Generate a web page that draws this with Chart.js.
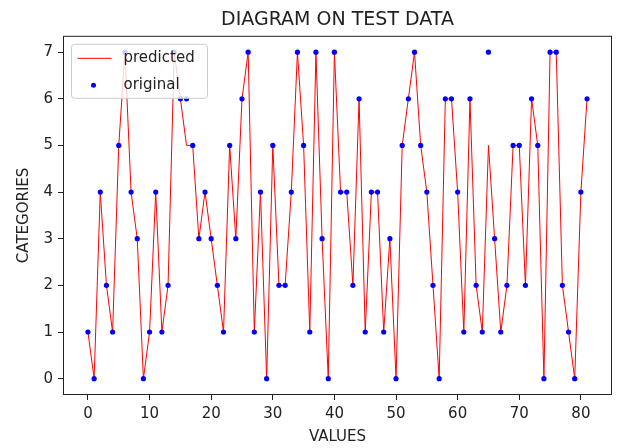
<!DOCTYPE html>
<html>
<head>
<meta charset="utf-8">
<script src="https://cdn.jsdelivr.net/npm/chart.js@4/dist/chart.umd.min.js"></script>
<style>
  html, body { margin: 0; padding: 0; background: #fff; }
  #wrap { width: 619px; height: 448px; }
</style>
</head>
<body>
<div id="wrap"><canvas id="diagramChart"></canvas></div>
<script>
// values
const original = [
  1, 0, 4, 2, 1, 5, 7, 4, 3, 0,
  1, 4, 1, 2, 7, 6, 6, 5, 3, 4,
  3, 2, 1, 5, 3, 6, 7, 1, 4, 0,
  5, 2, 2, 4, 7, 5, 1, 7, 3, 0,
  7, 4, 4, 2, 6, 1, 4, 4, 1, 3,
  0, 5, 6, 7, 5, 4, 2, 0, 6, 6,
  4, 1, 6, 2, 1, 7, 3, 1, 2, 5,
  5, 2, 6, 5, 0, 7, 7, 2, 1, 0,
  4, 6
];
const predicted = [
  1, 0, 4, 2, 1, 5, 7, 4, 3, 0,
  1, 4, 1, 2, 7, 6, 5, 5, 3, 4,
  3, 2, 1, 5, 3, 6, 7, 1, 4, 0,
  5, 2, 2, 4, 7, 5, 1, 7, 3, 0,
  7, 4, 4, 2, 6, 1, 4, 4, 1, 3,
  0, 5, 6, 7, 5, 4, 2, 0, 6, 6,
  4, 1, 6, 2, 1, 5, 3, 1, 2, 5,
  5, 2, 6, 5, 0, 7, 7, 2, 1, 0,
  4, 6
];
const xTicks = [0, 10, 20, 30, 40, 50, 60, 70, 80];
const yTicks = [0, 1, 2, 3, 4, 5, 6, 7];
const seriesNames = ["predicted", "original"];

const FONT = "'DejaVu Sans', sans-serif";
const TEXT = "#222";

function toPoints(values) {
  return values.map((v, i) => ({ x: i, y: v }));
}

// black frame on all four sides, like matplotlib spines
const framePlugin = {
  id: "frame",
  afterDraw(chart) {
    const { ctx, chartArea: a } = chart;
    ctx.save();
    ctx.strokeStyle = "#222";
    ctx.lineWidth = 1;
    ctx.strokeRect(a.left + 0.5, a.top + 0.5, a.right - a.left - 1, a.bottom - a.top - 1);
    ctx.restore();
  },
};

// legend in the upper left corner of the plot, drawn over the data
const insideLegend = {
  id: "insideLegend",
  afterDraw(chart) {
    const { ctx, chartArea: a } = chart;
    const left = a.left + 8.5;
    const top = a.top + 8.5;
    ctx.save();
    ctx.beginPath();
    ctx.roundRect(left, top, 136, 54, 3);
    ctx.fillStyle = "rgba(255,255,255,0.8)";
    ctx.fill();
    ctx.strokeStyle = "#cccccc";
    ctx.lineWidth = 1;
    ctx.stroke();

    ctx.strokeStyle = "#ff0000";
    ctx.beginPath();
    ctx.moveTo(left + 6, top + 14);
    ctx.lineTo(left + 40, top + 14);
    ctx.stroke();

    ctx.fillStyle = "#0000ff";
    ctx.beginPath();
    ctx.arc(left + 22, top + 41, 2.5, 0, Math.PI * 2);
    ctx.fill();

    ctx.fillStyle = TEXT;
    ctx.font = "15px " + FONT;
    ctx.textBaseline = "middle";
    ctx.fillText(seriesNames[0], left + 52, top + 14);
    ctx.fillText(seriesNames[1], left + 52, top + 41);
    ctx.restore();
  },
};

const ctx = document.getElementById("diagramChart").getContext("2d");
new Chart(ctx, {
  type: "line",
  data: {
    datasets: [
      {
        label: seriesNames[0],
        data: toPoints(predicted),
        borderColor: "#ff0000",
        borderWidth: 1,
        pointRadius: 0,
        tension: 0,
        fill: false,
        order: 2,
      },
      {
        type: "scatter",
        label: seriesNames[1],
        data: toPoints(original),
        backgroundColor: "#0000ff",
        borderWidth: 0,
        pointRadius: 2.6,
        showLine: false,
        order: 1,
      },
    ],
  },
  options: {
    responsive: true,
    maintainAspectRatio: false,
    animation: false,
    layout: { padding: { left: 0, right: 7, top: 0, bottom: 0 } },
    plugins: {
      legend: { display: false },
      tooltip: { enabled: false },
      title: {
        display: true,
        text: "DIAGRAM ON TEST DATA",
        fullSize: false,
        color: TEXT,
        font: { family: FONT, size: 19, weight: "normal" },
        padding: { top: 9, bottom: 4 },
      },
    },
    scales: {
      x: {
        type: "linear",
        min: -4.05,
        max: 85.05,
        afterBuildTicks: (axis) => {
          axis.ticks = xTicks.map((v) => ({ value: v }));
        },
        afterFit: (axis) => {
          axis.height = 53;
        },
        border: { display: false },
        grid: { drawOnChartArea: false, drawTicks: true, tickLength: 5, color: "#222" },
        ticks: { color: TEXT, padding: 5, maxRotation: 0, font: { family: FONT, size: 15 } },
        title: {
          display: true,
          text: "VALUES",
          color: TEXT,
          font: { family: FONT, size: 15 },
          padding: { top: 0, bottom: 2 },
        },
      },
      y: {
        type: "linear",
        min: -0.35,
        max: 7.35,
        afterBuildTicks: (axis) => {
          axis.ticks = yTicks.map((v) => ({ value: v }));
        },
        afterFit: (axis) => {
          axis.width = 63;
        },
        border: { display: false },
        grid: { drawOnChartArea: false, drawTicks: true, tickLength: 5, color: "#222" },
        ticks: { color: TEXT, padding: 5, font: { family: FONT, size: 15 } },
        title: {
          display: true,
          text: "CATEGORIES",
          color: TEXT,
          font: { family: FONT, size: 15 },
          padding: { top: 15, bottom: 0 },
        },
      },
    },
  },
  plugins: [framePlugin, insideLegend],
});
</script>
</body>
</html>
